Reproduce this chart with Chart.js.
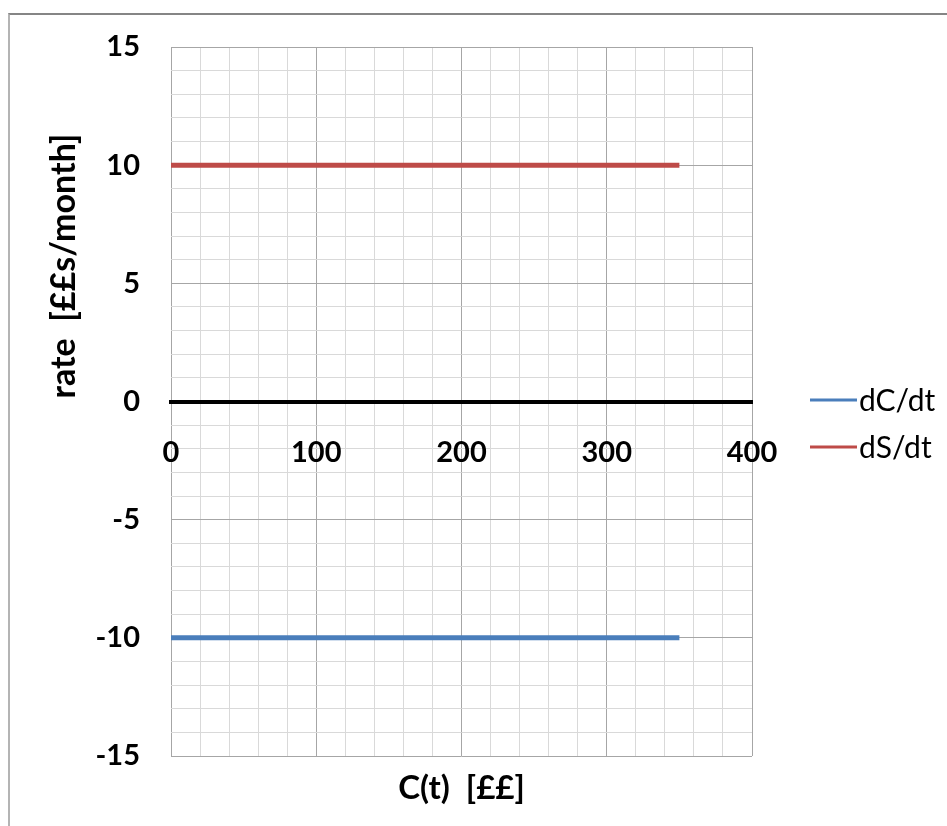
<!DOCTYPE html>
<html>
<head>
<meta charset="utf-8">
<script src="https://cdn.jsdelivr.net/npm/chart.js@4.4.1/dist/chart.umd.min.js"></script>
<style>
  html, body { margin: 0; padding: 0; background: #fff; }
  #wrap { position: relative; width: 947px; height: 826px; overflow: hidden; }
  #frame { position: absolute; left: 8px; top: 13px; width: 960px; height: 840px;
           border-top: 2px solid #858585; border-left: 2px solid #b4b4b4; pointer-events: none; }
  canvas { position: absolute; left: 0; top: 0; }
</style>
</head>
<body>
<div id="wrap">
  <canvas id="rateChart" width="947" height="826"></canvas>
  <div id="frame"></div>
</div>
<script>
// values
const cValues = [0, 350];          // C(t) in ££
const dCdt = [-10, -10];           // dC/dt
const dSdt = [10, 10];             // dS/dt
const xTickLabels = [0, 100, 200, 300, 400];
const yTickLabels = [-15, -10, -5, 0, 5, 10, 15];
const seriesNames = ['dC/dt', 'dS/dt'];
const seriesColors = ['#4a7ebb', '#be4b48'];

const xTitle = 'C(t)  [££]';
const yTitle = 'rate  [££s/month]';

const minorGrid = '#d9d9d9';
const majorGrid = '#a6a6a6';

// titles + legend drawn by hand, Excel style
const excelDecor = {
    id: 'excelDecor',
    afterDraw(chart) {
        const ctx = chart.ctx;
        const area = chart.chartArea;
        ctx.save();
        ctx.fillStyle = '#000';
        ctx.textAlign = 'center';
        ctx.textBaseline = 'middle';

        ctx.font = 'bold 33px Lato';
        ctx.fillText(xTitle, (area.left + area.right) / 2, 788);

        ctx.save();
        ctx.translate(64, 266);
        ctx.rotate(-Math.PI / 2);
        ctx.font = 'bold 34px Lato';
        ctx.fillText(yTitle, 0, 0);
        ctx.restore();

        // legend
        ctx.textAlign = 'left';
        ctx.font = '30px Lato';
        chart.data.datasets.forEach((ds, i) => {
            const y = 400 + i * 47;
            ctx.strokeStyle = ds.borderColor;
            ctx.lineWidth = 3;
            ctx.beginPath();
            ctx.moveTo(810, y);
            ctx.lineTo(857, y);
            ctx.stroke();
            ctx.fillText(ds.label, 859, y + 1);
        });
        ctx.restore();
    }
};

const ctx = document.getElementById('rateChart');
new Chart(ctx, {
    type: 'line',
    data: {
        datasets: [
            {
                label: seriesNames[0],
                data: cValues.map((x, i) => ({ x: x, y: dCdt[i] })),
                borderColor: seriesColors[0],
                borderWidth: 5,
                pointRadius: 0,
                fill: false
            },
            {
                label: seriesNames[1],
                data: cValues.map((x, i) => ({ x: x, y: dSdt[i] })),
                borderColor: seriesColors[1],
                borderWidth: 5,
                pointRadius: 0,
                fill: false
            }
        ]
    },
    options: {
        responsive: false,
        animation: false,
        devicePixelRatio: 1,
        layout: { padding: { left: 0, top: 47, right: 195, bottom: 70 } },
        plugins: {
            legend: { display: false },
            tooltip: { enabled: false }
        },
        scales: {
            x: {
                type: 'linear',
                position: { y: 0 },
                min: 0,
                max: 400,
                grid: {
                    drawTicks: false,
                    color: c => (c.tick && c.tick.value % 100 === 0) ? majorGrid : minorGrid
                },
                border: { display: true, color: '#000', width: 4 },
                ticks: {
                    stepSize: 20,
                    autoSkip: false,
                    maxRotation: 0,
                    padding: 34,
                    color: '#000',
                    font: { family: 'Lato', weight: 'bold', size: 29 },
                    callback: v => xTickLabels.includes(v) ? String(v) : ''
                },
                afterFit: s => { s.paddingLeft = 0; s.paddingRight = 0; }
            },
            y: {
                type: 'linear',
                position: 'left',
                min: -15,
                max: 15,
                grid: {
                    drawTicks: false,
                    color: c => (c.tick && c.tick.value % 5 === 0) ? majorGrid : minorGrid
                },
                border: { display: false },
                ticks: {
                    stepSize: 1,
                    autoSkip: false,
                    padding: 31,
                    color: '#000',
                    font: { family: 'Lato', weight: 'bold', size: 29 },
                    callback: v => yTickLabels.includes(v) ? String(v) : ''
                },
                afterFit: s => { s.width = 171; s.paddingTop = 0; s.paddingBottom = 0; }
            }
        }
    },
    plugins: [excelDecor]
});
</script>
</body>
</html>
